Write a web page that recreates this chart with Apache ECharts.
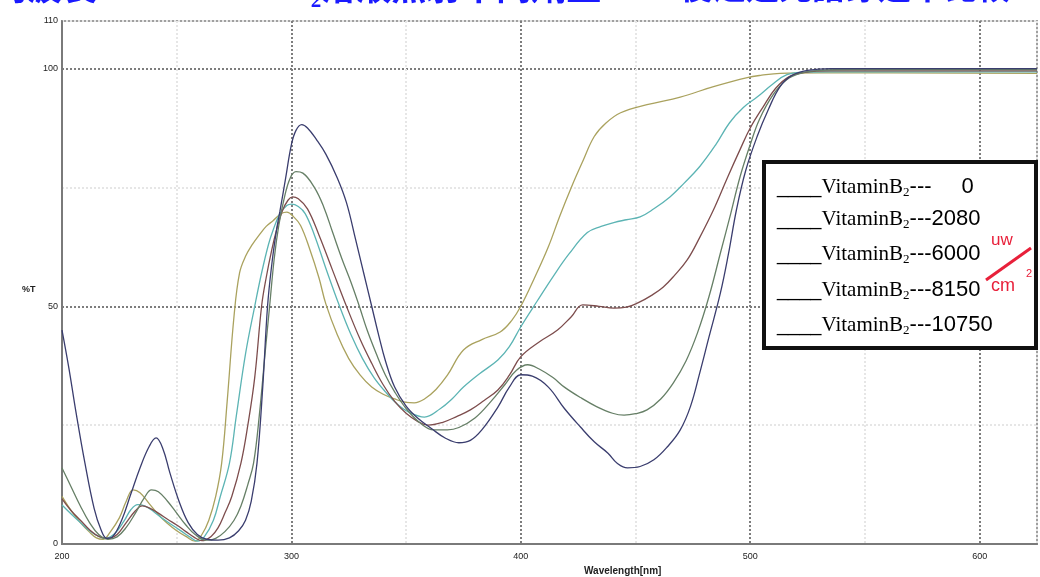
<!DOCTYPE html>
<html>
<head>
<meta charset="utf-8">
<title>VitaminB2 %T</title>
<script src="https://cdn.jsdelivr.net/npm/echarts@6/dist/echarts.min.js"></script>
<style>
  html, body { margin: 0; padding: 0; background: #fff; }
  #main { width: 1040px; height: 577px; }
</style>
</head>
<body>
<div id="main"></div>
<script>
// 劑量 (uw/cm2)
var doses = ['0', '2080', '6000', '8150', '10750'];
var lineColors = ['#3a3d6e', '#667f66', '#7d4d4d', '#5cb4b4', '#aaa25e'];
var textColors = ['#23236e', '#3f8f3f', '#4a1414', '#44c4c4', '#a39a35'];

// [波長 nm, %T]
var t0 = [[200,45],[203,37],[206,28],[210,17],[214,7.5],[217,3],[219.5,1.2],[222,1.5],[226,5],[230,10.5],[234,16],[238,20.5],[241,22.3],[244,20],[247,15],[251,9],[255,4.5],[259,2],[263,1],[268,0.8],[273,1.3],[277,2.8],[280,5],[282.5,9],[285,17],[287.5,33],[289.6,50],[291.5,59],[293.5,66],[295,70],[297.5,77],[300,84],[302,87],[304.5,88.2],[307,87.5],[311,85],[315,82],[320,77],[324,71.8],[328,64],[331.5,57],[335,50],[338,44],[341,38.5],[345,33],[350,29],[355,26.5],[361,24.3],[367,22.3],[373,21.3],[378,21.8],[383,24],[390,28.8],[395,33],[400,35.6],[405,35.3],[412,33],[419,28.5],[426,24.6],[432,21.5],[438,19.1],[442,17],[446.5,16],[452,16.3],[458,17.7],[464,20.5],[469.5,24],[474,29],[478,36],[482,43.5],[487,52.8],[490.5,61],[494,70.3],[498,78.5],[503,85.7],[508,91.5],[513,96.2],[518,98.5],[525,99.6],[535,100],[560,100],[600,100],[625,100]];
var t2080 = [[200,16],[204,12],[208,8],[212,4.5],[216,2],[220,1],[224,1.5],[228,3.5],[232,6.5],[236,9.8],[239,11.4],[242,11],[246,9],[250,6.5],[254,4],[258,2],[263,0.8],[267,1.2],[271,2.6],[275,5],[278,8],[281,12.5],[283.5,17],[286,27],[288.5,40],[290.5,50],[292.5,60],[294.5,67],[297,73],[299.5,77],[302,78.3],[305,78],[310,75],[314,71],[318,65.5],[322,60],[326,55],[329.6,50],[333,45],[337,40],[341,35.5],[345,32],[350,28.5],[356,25.5],[362,24],[368,24],[373,24.5],[380,26.5],[387,30],[393,33.5],[398,36.5],[403,37.7],[408,36.8],[414,35],[419,33],[426,30.8],[433,28.9],[440,27.5],[445,27.1],[450,27.4],[455,28.2],[461,30.5],[466.5,33.9],[472,38.5],[477,44.4],[482,52],[487,61.2],[491.5,69.5],[495.6,77.3],[500,84],[504,89.3],[510,94.5],[516,97.7],[522,99],[530,99.6],[545,99.8],[625,99.8]];
var t6000 = [[200,9.5],[204,7],[208,5],[212,3],[216,1.6],[220,1.2],[224,2],[228,4.5],[232,7],[235,8],[238,7.6],[242,6.5],[246,5.2],[250,4],[254,2.6],[258,1.3],[261,0.7],[265,1.6],[268,3.4],[271,6.5],[274,10],[278,17],[281,25],[284,35],[287,50],[289,56],[291.5,62],[293.5,66],[296,70],[298.5,72.3],[300.5,73],[303,72.6],[307,70.5],[312,65],[318,57.5],[324,50],[330,43],[335,38],[340,33.5],[345,30],[350,27.5],[355,25.8],[359.5,25],[366,25.6],[372,26.8],[378,28.2],[384,30.2],[390,32.4],[395,35.5],[400,39.4],[408,42.5],[416,45],[422,47.8],[427,50.3],[434,50],[440.5,49.6],[446,49.8],[451,50.7],[457,52.3],[462,54],[467,56.5],[472.6,59.8],[478,64.5],[484,70.3],[490,77],[495.6,83],[500,87.5],[505.7,92],[511,95.8],[517,98.3],[524,99.2],[535,99.5],[625,99.5]];
var t8150 = [[200,8.2],[204,6.3],[208,4.5],[212,2.8],[216,1.6],[219,1.2],[223,2.2],[227,4.8],[230,7.2],[233,8.3],[236,8],[240,6.8],[244,5.3],[248,4],[252,2.7],[256,1.4],[259,0.6],[262,1.5],[266,5],[269,10],[273,17],[276,27],[280,40],[284,50],[287,57],[290,63],[292,66],[295,69.5],[298,71.2],[300,71.5],[303,71],[306,69.5],[310,65],[315,58],[321,50],[326,44],[331,39],[336,35],[341,32],[346,29.5],[351,27.8],[358,26.7],[365,28.5],[370,30.5],[375,33],[382,35.8],[390,38.7],[395,41.5],[400,45.7],[407,51],[414,56.2],[421,61],[429,65.5],[435,66.8],[440.5,67.6],[446,68.2],[452,68.8],[458,70.5],[465,73],[471,75.8],[478,79.4],[485,84],[491,88.6],[497,91.8],[503,94],[510,96.8],[516,98.7],[523,99.2],[535,99.3],[625,99.3]];
var t10750 = [[200,10],[204,7],[208,4.5],[212,2.5],[215,1.3],[218,1],[221,2.5],[225,5.5],[228,9],[231,11.4],[234,10.8],[238,8.5],[242,6.2],[246,4.3],[250,2.8],[254,1.6],[258,0.6],[261,2],[264,5],[267,10],[269.6,17],[272,30],[275,48],[277.4,57],[280,60.5],[283,63],[286,65],[289,66.8],[292,68],[295.6,69.5],[298,69.8],[301,68.8],[304,67],[308,62],[312,56],[315,50.5],[320,44],[325,39],[330,35.5],[335,33],[340,31.5],[345,30.5],[350,29.8],[353.5,29.7],[358,30.5],[363,32.5],[368,35.5],[375,40.8],[383,43],[391,44.6],[396,47],[400,50],[406,56],[412,62.5],[417,69],[422,75],[427,80.5],[432,85.7],[437,88.5],[443.5,90.7],[455,92.4],[469.5,94],[484,96.2],[498.7,98.1],[505,98.6],[513,99],[530,99.1],[625,99]];
var allData = [t0, t2080, t6000, t8150, t10750];

var myChart = echarts.init(document.getElementById('main'));

var series = [];
for (var i = allData.length - 1; i >= 0; i--) {
    series.push({
        name: doses[i],
        type: 'line',
        data: allData[i],
        showSymbol: false,
        smooth: 0.4,
        lineStyle: { color: lineColors[i], width: 1.3 }
    });
}

// 圖例框 (文字)
var rowY = [189, 221, 256, 292, 327];
var legendTexts = [];
for (var k = 0; k < doses.length; k++) {
    legendTexts.push({
        type: 'text',
        left: 777,
        top: rowY[k] - 13,
        z: 101,
        style: {
            text: '{u|____}{v|VitaminB}{s|2}{d|---}{n|' + doses[k] + '}',
            rich: {
                u: { fontFamily: 'Liberation Sans', fontSize: 20, color: lineColors[k], lineHeight: 25 },
                v: { fontFamily: 'Liberation Serif', fontSize: 21, color: textColors[k], lineHeight: 25 },
                s: { fontFamily: 'Liberation Serif', fontSize: 13, color: textColors[k], lineHeight: 13, verticalAlign: 'bottom' },
                d: { fontFamily: 'Liberation Sans', fontSize: 22, color: textColors[k], lineHeight: 25 },
                n: { fontFamily: 'Liberation Sans', fontSize: 22, color: k == 2 ? '#5a2020' : textColors[k], lineHeight: 25,
                     padding: [0, 0, 0, k == 0 ? 30 : 0] }
            }
        }
    });
}

option = {
    backgroundColor: '#fff',
    animation: false,
    grid: {
        left: 62, right: 0, top: 21, bottom: 33,
        show: true, borderColor: '#a0a0a0', borderWidth: 2
    },
    xAxis: {
        type: 'value',
        min: 200, max: 625, interval: 50,
        axisLine: { lineStyle: { color: '#7a7a7a', width: 2 } },
        axisTick: { show: false },
        axisLabel: {
            color: '#222', fontSize: 9, fontFamily: 'Liberation Sans', margin: 8,
            formatter: function (v) { return v % 100 === 0 ? v : ''; }
        },
        splitLine: {
            show: true,
            lineStyle: { color: ['#7d7d7d', '#e6e6e6'], width: 2, type: [2, 2] }
        }
    },
    yAxis: {
        type: 'value',
        min: 0, max: 110, interval: 25,
        axisLine: { show: true, lineStyle: { color: '#7a7a7a', width: 2 } },
        axisTick: { show: false },
        axisLabel: {
            color: '#222', fontSize: 9, fontFamily: 'Liberation Sans', margin: 4,
            formatter: function (v) { return (v % 50 === 0 || v === 110) ? v : ''; }
        },
        splitLine: {
            show: true,
            lineStyle: { color: ['#7d7d7d', '#e6e6e6'], width: 2, type: [2, 2] }
        }
    },
    graphic: [
        // 標題 (上方被裁掉)
        { type: 'text', left: -8, top: -31, style: { text: '內波長', fontFamily: 'Noto Sans CJK TC', fontWeight: 'bold', fontSize: 35, fill: '#1a1aff' } },
        { type: 'text', left: 287, top: -31, style: { text: 'B₂溶液照射不同劑量', fontFamily: 'Noto Sans CJK TC', fontWeight: 'bold', fontSize: 35, fill: '#1a1aff' } },
        { type: 'text', left: 680, top: -30, style: { text: '後之透光譜穿透率比較', fontFamily: 'Noto Sans CJK TC', fontWeight: 'bold', fontSize: 33, fill: '#1a1aff' } },
        // 軸名
        { type: 'text', left: 22, top: 285, style: { text: '%T', fontFamily: 'Liberation Sans', fontWeight: 'bold', fontSize: 9, fill: '#222' } },
        { type: 'text', left: 584, top: 566, style: { text: 'Wavelength[nm]', fontFamily: 'Liberation Sans', fontWeight: 'bold', fontSize: 10, fill: '#222' } },
        // 圖例框
        { type: 'rect', shape: { x: 764, y: 162, width: 272, height: 186 }, z: 100,
          style: { fill: '#fff', stroke: '#111', lineWidth: 4 } },
        // uw/cm2
        { type: 'text', left: 991, top: 232, z: 102, style: { text: 'uw', fontFamily: 'Liberation Sans', fontSize: 17, fill: '#e8203a' } },
        { type: 'line', z: 102, shape: { x1: 986, y1: 280, x2: 1031, y2: 248 }, style: { stroke: '#e8203a', lineWidth: 3 } },
        { type: 'text', left: 991, top: 277, z: 102, style: { text: 'cm', fontFamily: 'Liberation Sans', fontSize: 18, fill: '#e8203a' } },
        { type: 'text', left: 1026, top: 268, z: 102, style: { text: '2', fontFamily: 'Liberation Sans', fontSize: 11, fill: '#e8203a' } }
    ].concat(legendTexts),
    series: series
};

myChart.setOption(option);
</script>
</body>
</html>
